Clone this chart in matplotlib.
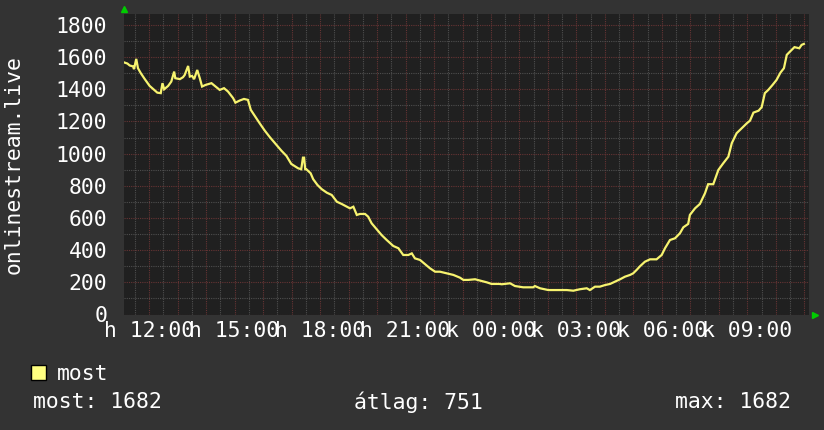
import matplotlib
matplotlib.use('Agg')
from matplotlib import pyplot as plt
from matplotlib.ticker import MultipleLocator, FuncFormatter
from matplotlib.patches import Patch

# hours since midnight of day 1 (values > 24 belong to the next day)
hours = [11.14, 11.24, 11.32, 11.44, 11.47, 11.55, 11.61, 11.71, 11.85, 12.02,
         12.18, 12.29, 12.41, 12.47, 12.53, 12.67, 12.78, 12.88, 12.92, 13.08,
         13.19, 13.25, 13.37, 13.43, 13.51, 13.58, 13.69, 13.78, 13.86, 13.98,
         14.19, 14.36, 14.48, 14.63, 14.77, 14.95, 15.03, 15.18, 15.33, 15.47,
         15.57, 15.71, 15.88, 16.06, 16.24, 16.47, 16.64, 16.82, 16.99, 17.23,
         17.34, 17.40, 17.44, 17.48, 17.52, 17.67, 17.76, 17.91, 18.06, 18.24,
         18.41, 18.59, 18.76, 18.94, 19.05, 19.17, 19.29, 19.40, 19.58, 19.69,
         19.81, 19.99, 20.16, 20.34, 20.57, 20.75, 20.92, 21.10, 21.22, 21.33,
         21.51, 21.68, 21.86, 22.04, 22.21, 22.45, 22.68, 22.91, 23.03, 23.20,
         23.44, 23.67, 23.85, 24.02, 24.29, 24.38, 24.67, 24.84, 25.13, 25.48,
         25.54, 25.72, 26.01, 26.42, 26.66, 26.89, 27.12, 27.36, 27.47, 27.65,
         27.82, 28.00, 28.18, 28.35, 28.53, 28.70, 28.88, 28.99, 29.11, 29.23,
         29.40, 29.58, 29.81, 29.99, 30.11, 30.28, 30.46, 30.63, 30.75, 30.92,
         30.98, 31.16, 31.33, 31.51, 31.62, 31.80, 31.98, 32.15, 32.33, 32.45,
         32.62, 32.80, 32.98, 33.09, 33.21, 33.39, 33.50, 33.61, 33.73, 33.88,
         34.02, 34.16, 34.28, 34.38, 34.49, 34.65, 34.82, 34.90, 34.98]
users = [1566, 1560, 1548, 1542, 1525, 1589, 1531, 1500, 1463, 1421,
         1396, 1379, 1376, 1438, 1400, 1421, 1448, 1510, 1469, 1463,
         1475, 1489, 1545, 1479, 1483, 1463, 1520, 1469, 1417, 1427,
         1438, 1413, 1396, 1407, 1386, 1345, 1317, 1330, 1340, 1334,
         1272, 1234, 1189, 1143, 1102, 1054, 1019, 986, 936, 909,
         903, 975, 975, 903, 903, 878, 841, 805, 779, 757,
         743, 701, 687, 670, 660, 670, 619, 625, 625, 608,
         567, 530, 494, 463, 426, 412, 370, 370, 380, 349,
         339, 314, 287, 266, 266, 256, 246, 229, 215, 215,
         219, 208, 200, 190, 190, 188, 194, 177, 169, 169,
         177, 163, 152, 152, 152, 148, 157, 163, 152, 173,
         173, 183, 190, 204, 219, 235, 246, 256, 277, 300,
         328, 343, 343, 370, 413, 463, 474, 505, 542, 563,
         619, 660, 687, 754, 810, 810, 899, 940, 981, 1065,
         1127, 1158, 1189, 1205, 1255, 1267, 1289, 1376, 1396, 1427,
         1458, 1504, 1531, 1614, 1634, 1662, 1655, 1676, 1682]

label_hours = [12, 15, 18, 21, 24, 27, 30, 33]
label_texts = ['h 12:00', 'h 15:00', 'h 18:00', 'h 21:00',
               'k 00:00', 'k 03:00', 'k 06:00', 'k 09:00']
stats = ['most: 1682', 'átlag: 751', 'max: 1682']

BG = '#333333'
CANVAS = '#202020'
LINE = '#f7f36f'
FONT = 'DejaVu Sans Mono'
FS = 15.4

plt.rcParams['font.family'] = FONT

fig = plt.figure(figsize=(8.24, 4.30), dpi=100, facecolor=BG)
ax = fig.add_axes([124 / 824, 1 - 314.5 / 430, 685 / 824, 300.5 / 430])
ax.set_facecolor(CANVAS)

ax.set_xlim(11.12, 35.16)
ax.set_ylim(0, 1868)

ax.xaxis.set_major_locator(MultipleLocator(1))
ax.xaxis.set_minor_locator(MultipleLocator(0.5))
ax.yaxis.set_major_locator(MultipleLocator(200))
ax.yaxis.set_minor_locator(MultipleLocator(100))

labels = dict(zip(label_hours, label_texts))
ax.xaxis.set_major_formatter(FuncFormatter(lambda v, p: labels.get(int(round(v)), '')
                                           if abs(v - round(v)) < 1e-6 else ''))

ax.grid(which='minor', color='#4e4e4e', linestyle=(0, (1, 1)), linewidth=0.8)
ax.grid(which='major', color='#663434', linestyle=(0, (1, 1)), linewidth=0.8)
ax.set_axisbelow(True)

ax.tick_params(which='both', length=0, colors='white', labelsize=FS)
ax.tick_params(axis='x', pad=5)
ax.tick_params(axis='y', pad=12)
for s in ax.spines.values():
    s.set_visible(False)

ax.plot(hours, users, color=LINE, linewidth=1.6, solid_joinstyle='miter')

# little green arrows at axis ends
ax.plot([0], [1.015], marker='^', color='#00cc00', markersize=4.5,
        transform=ax.transAxes, clip_on=False)
ax.plot([1.009], [0.0], marker='>', color='#00cc00', markersize=4.5,
        transform=ax.transAxes, clip_on=False)

ax.set_ylabel('onlinestream.live', color='white', fontsize=FS)
ax.yaxis.set_label_coords(-0.147, 0.5)

fig.legend(handles=[Patch(facecolor='#ffff80', edgecolor='black', linewidth=1, label='most')],
           loc='center left', bbox_to_anchor=(31 / 824, 1 - 374 / 430), frameon=False,
           handlelength=0.7, handleheight=0.7, handletextpad=0.5,
           borderpad=0, borderaxespad=0, labelcolor='white', prop={'size': FS})

for x, txt in zip([33, 354, 675], stats):
    fig.text(x / 824, 1 - 402 / 430, txt, color='white', fontsize=FS, va='center', ha='left')

fig.savefig('out.png', dpi=100, facecolor=BG)
